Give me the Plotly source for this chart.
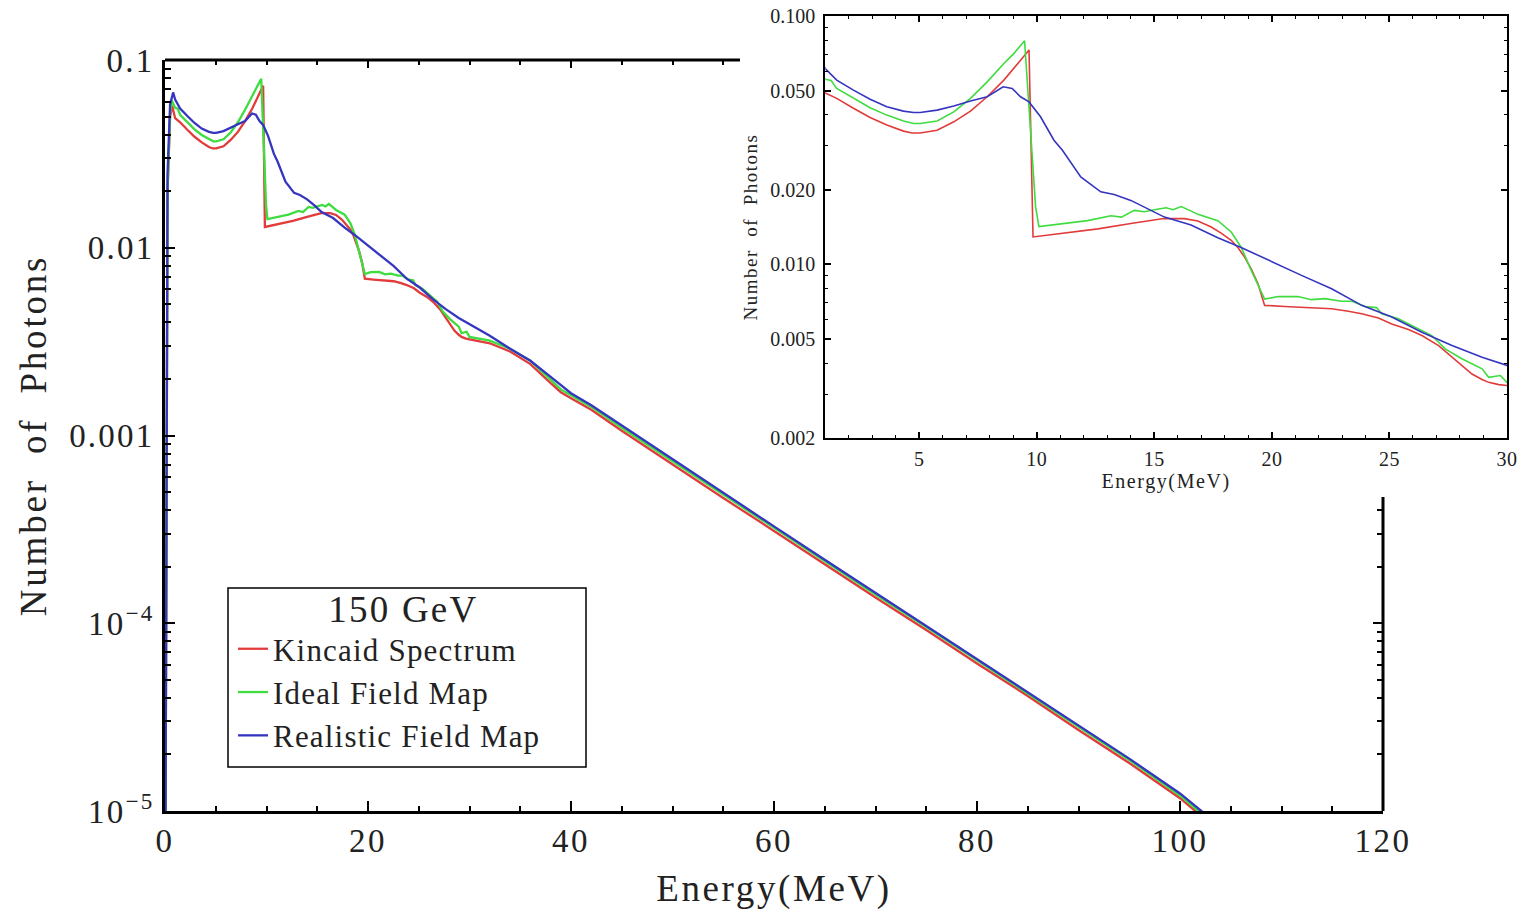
import plotly.graph_objects as go

# ---------------- data ----------------
kincaid_E = [0, 0.25, 0.5, 0.7, 1.0, 1.49, 2.2, 2.91, 3.62, 4.33, 4.7, 5.04, 5.76, 6.47, 7.18, 7.89, 8.6, 9.31, 9.67, 9.84,
             11.0, 12.6, 14.0, 15.4, 16.28, 16.85, 17.42, 17.84, 18.27, 18.56, 18.84, 19.12, 19.41, 19.69,
             20.54, 21.26, 21.97, 22.54, 23.25, 23.82, 24.53, 25.10, 25.81, 26.38, 27.09, 27.66, 28.08, 28.51,
             28.94, 29.22, 29.65, 30.0,
             32, 34, 36, 38, 39, 40, 42, 45, 50, 55, 60, 65, 70, 75, 80, 85, 90, 95, 100, 101.5, 102.5]
kincaid_N = [1e-6, 0.02, 0.05, 0.057, 0.049, 0.0466, 0.0425, 0.039, 0.0364, 0.0344, 0.0338, 0.0338, 0.0347, 0.0375, 0.0414, 0.0473, 0.0552, 0.0665, 0.0729, 0.0129,
             0.0133, 0.0139, 0.0146, 0.0153, 0.01528, 0.01495, 0.01414, 0.01337, 0.0125, 0.01167, 0.0107, 0.0096, 0.00836, 0.00684,
             0.00677, 0.00673, 0.00669, 0.00663, 0.00648, 0.00633, 0.00608, 0.00576, 0.00547, 0.00517, 0.00471, 0.00423, 0.00392, 0.00362,
             0.00344, 0.00335, 0.00328, 0.00325,
             0.0031, 0.0028, 0.0024, 0.0019, 0.0017, 0.00158, 0.00137, 0.00106, 7.0e-4, 4.65e-4, 3.1e-4, 2.06e-4,
             1.37e-4, 9.2e-5, 6.1e-5, 4.1e-5, 2.7e-5, 1.8e-5, 1.17e-5, 1.0e-5, 9.2e-6]

ideal_E = [0, 0.25, 0.5, 0.66, 1.0, 1.25, 1.49, 2.2, 2.91, 3.62, 4.33, 4.76, 5.04, 5.76, 6.47, 7.18, 7.89, 8.6, 9.03, 9.48,
           9.74, 9.95, 10.09, 11.16, 12.16, 13.15, 13.6, 14.14, 14.57, 15.0, 15.5, 15.8, 16.14, 16.5, 16.85,
           17.7, 18.27, 18.7, 19.12, 19.69, 20.26, 21.11, 21.68, 22.26, 22.96, 23.4, 23.96, 24.45, 24.67,
           25.38, 26.09, 26.8, 27.37, 28.08, 28.94, 29.22, 29.72, 30.0,
           32, 34, 36, 38, 39, 40, 42, 45, 50, 55, 60, 65, 70, 75, 80, 85, 90, 95, 100, 101.8, 102.8]
ideal_N = [1e-6, 0.02, 0.052, 0.061, 0.0556, 0.0550, 0.0511, 0.0466, 0.0427, 0.0399, 0.0378, 0.0369, 0.0369, 0.0378, 0.0411, 0.0466, 0.0543, 0.0644, 0.0707, 0.0795,
           0.0347, 0.017, 0.0142, 0.0146, 0.0150, 0.0157, 0.0155, 0.0165, 0.0163, 0.0166, 0.0169, 0.0166, 0.0171, 0.0165, 0.0159,
           0.0150, 0.0135, 0.0117, 0.00946, 0.00725, 0.00742, 0.00743, 0.00721, 0.00728, 0.00711, 0.00711, 0.00677, 0.0067, 0.00633,
           0.00604, 0.00558, 0.00517, 0.00457, 0.00417, 0.0038, 0.00351, 0.00357, 0.00335,
           0.0032, 0.0029, 0.0025, 0.00198, 0.00176, 0.00164, 0.00142, 0.0011, 7.3e-4, 4.85e-4, 3.22e-4, 2.14e-4,
           1.42e-4, 9.55e-5, 6.35e-5, 4.25e-5, 2.8e-5, 1.87e-5, 1.21e-5, 1.0e-5, 9.2e-6]

realistic_E = [0, 0.25, 0.5, 0.8, 1.0, 1.49, 2.2, 2.91, 3.62, 4.33, 4.76, 5.04, 5.76, 6.47, 7.18, 7.89, 8.57, 8.95, 9.31, 9.67, 10.16, 10.73,
               11.09, 11.87, 12.72, 13.29, 14.0, 14.72, 15.43, 16.56, 17.7, 18.69, 19.12, 19.98, 21.26, 22.54,
               23.82, 25.1, 26.38, 27.66, 28.94, 30.0,
               32, 34, 36, 38, 40, 42, 45, 50, 55, 60, 65, 70, 75, 80, 85, 90, 95, 100, 102.1, 103]
realistic_N = [1e-6, 0.025, 0.058, 0.0672, 0.0615, 0.0552, 0.0503, 0.0462, 0.0431, 0.0414, 0.0409, 0.0409, 0.0418, 0.0434, 0.0455, 0.0473, 0.0519, 0.0511, 0.0473, 0.0451, 0.0393, 0.0316,
               0.0288, 0.0225, 0.0196, 0.0191, 0.0181, 0.0168, 0.0155, 0.0144, 0.0128, 0.0117, 0.0112, 0.0103, 0.00903, 0.00798,
               0.00684, 0.00614, 0.00533, 0.00471, 0.00423, 0.00392,
               0.0034, 0.0029, 0.0025, 0.00205, 0.00168, 0.00145, 0.00113, 7.45e-4, 4.95e-4, 3.28e-4, 2.18e-4,
               1.45e-4, 9.7e-5, 6.45e-5, 4.3e-5, 2.86e-5, 1.9e-5, 1.24e-5, 1.0e-5, 9.3e-6]

series_names = ["Kincaid Spectrum", "Ideal Field Map", "Realistic Field Map"]
series_colors = ["#e23b3b", "#3fdc3f", "#3535c0"]
legend_title = "150 GeV"

main_x_ticks = [0, 20, 40, 60, 80, 100, 120]
main_x_labels = ["0", "20", "40", "60", "80", "100", "120"]
main_y_ticks = [1e-5, 1e-4, 1e-3, 1e-2, 1e-1]
main_y_labels = ["10<sup>\u22125</sup>", "10<sup>\u22124</sup>", "0.001", "0.01", "0.1"]
inset_x_ticks = [5, 10, 15, 20, 25, 30]
inset_x_labels = ["5", "10", "15", "20", "25", "30"]
inset_y_ticks = [0.002, 0.005, 0.01, 0.02, 0.05, 0.1]
inset_y_labels = ["0.002", "0.005", "0.010", "0.020", "0.050", "0.100"]
x_title = "Energy(MeV)"
y_title = "Number\u00a0 of\u00a0 Photons"


def spaced(text, px):
    return '<span style="letter-spacing:%spx">%s</span>' % (px, text)


# ---------------- figure ----------------
FONT = "Liberation Serif, Times New Roman, serif"
W, H = 1527, 915
L, R, T, B = 165, 20, 16, 104
PW, PH = W - L - R, H - T - B


def px_x(p):
    return (p - L) / PW


def px_y(p):
    return (H - B - p) / PH


main_xdom = [0, px_x(1383)]
main_ydom = [0, px_y(60)]
ins_xdom = [px_x(825.2), 1.0]
ins_ydom = [px_y(438), 1.0]

fig = go.Figure()
data = [(kincaid_E, kincaid_N), (ideal_E, ideal_N), (realistic_E, realistic_N)]
for (ex, ny), name, col in zip(data, series_names, series_colors):
    fig.add_trace(go.Scatter(x=ex, y=ny, mode="lines", name=spaced(name, 1.2),
                             line=dict(color=col, width=2.3), xaxis="x", yaxis="y"))
for (ex, ny), name, col in zip(data, series_names, series_colors):
    fig.add_trace(go.Scatter(x=ex, y=ny, mode="lines", name=name, showlegend=False,
                             line=dict(color=col, width=1.6), xaxis="x2", yaxis="y2"))
# helper traces so the partial top / right tick axes are drawn
fig.add_trace(go.Scatter(x=[None], y=[None], xaxis="x3", yaxis="y", showlegend=False, hoverinfo="skip"))
fig.add_trace(go.Scatter(x=[None], y=[None], xaxis="x", yaxis="y3", showlegend=False, hoverinfo="skip"))

minor_log = []
for d in range(-5, -1):
    for k in range(2, 10):
        minor_log.append(k * 10.0 ** d)
ins_minor = [v for v in minor_log if 0.002 <= v <= 0.1 and all(abs(v - t) > 1e-12 for t in inset_y_ticks)]

tickfont_main = dict(family=FONT, size=33, color="#222")
tickfont_ins = dict(family=FONT, size=20, color="#222")
fig.update_layout(
    width=W, height=H,
    margin=dict(l=L, r=R, t=T, b=B, autoexpand=False),
    paper_bgcolor="white", plot_bgcolor="white",
    font=dict(family=FONT, color="#222"),
    xaxis=dict(domain=main_xdom, anchor="y", range=[0, 120], tickmode="array", tickvals=main_x_ticks,
               ticktext=[spaced(t, 2.5) for t in main_x_labels],
               ticks="inside", ticklen=10, tickwidth=2, tickcolor="black",
               showline=True, linewidth=3, linecolor="black", showgrid=False, zeroline=False,
               tickfont=tickfont_main, ticklabelstandoff=-2,
               minor=dict(dtick=5, ticks="inside", ticklen=5, tickwidth=2, tickcolor="black", showgrid=False),
               title=dict(text=spaced(x_title, 2.6), font=dict(family=FONT, size=37, color="#222"), standoff=18)),
    yaxis=dict(domain=main_ydom, anchor="x", type="log", range=[-5, -1], tickmode="array",
               tickvals=main_y_ticks, ticktext=[spaced(t, 2.2) for t in main_y_labels],
               ticks="inside", ticklen=10, tickwidth=2, tickcolor="black",
               showline=True, linewidth=3, linecolor="black", showgrid=False, zeroline=False,
               tickfont=tickfont_main, ticklabelstandoff=1,
               minor=dict(tickmode="array", tickvals=minor_log, ticks="inside", ticklen=6, tickwidth=2,
                          tickcolor="black", showgrid=False),
               title=dict(text=spaced(y_title, 2.8), font=dict(family=FONT, size=37, color="#222"), standoff=12)),
    xaxis3=dict(overlaying="x", side="top", anchor="y", range=[0, 120], tickmode="array", tickvals=[0, 20, 40],
                ticks="inside", ticklen=8, tickwidth=2, tickcolor="black", showticklabels=False,
                showline=False, showgrid=False, zeroline=False,
                minor=dict(tickmode="array", tickvals=[5, 10, 15, 25, 30, 35, 45, 50, 55], ticks="inside",
                           ticklen=5, tickwidth=2, tickcolor="black", showgrid=False)),
    yaxis3=dict(overlaying="y", side="right", anchor="x", type="log", range=[-5, -1], tickmode="array",
                tickvals=[1e-4], ticks="inside", ticklen=10, tickwidth=2, tickcolor="black",
                showticklabels=False, showline=False, showgrid=False, zeroline=False,
                minor=dict(tickmode="array", tickvals=[v for v in minor_log if v < 4.5e-4], ticks="inside",
                           ticklen=6, tickwidth=2, tickcolor="black", showgrid=False)),
    xaxis2=dict(domain=ins_xdom, anchor="y2", range=[1, 30], tickmode="array", tickvals=inset_x_ticks,
                ticktext=[spaced(t, 0.5) for t in inset_x_labels],
                ticks="inside", ticklen=6, tickwidth=1.5, tickcolor="black", mirror="ticks",
                showline=True, linewidth=2, linecolor="black", showgrid=False, zeroline=False,
                tickfont=tickfont_ins, ticklabelstandoff=2,
                minor=dict(dtick=1, ticks="inside", ticklen=3, tickwidth=1.2, tickcolor="black", showgrid=False),
                title=dict(text=spaced(x_title, 1.6), font=dict(family=FONT, size=20, color="#222"), standoff=5)),
    yaxis2=dict(domain=ins_ydom, anchor="x2", type="log", range=[-2.69897, -1], tickmode="array",
                tickvals=inset_y_ticks, ticktext=inset_y_labels,
                ticks="inside", ticklen=6, tickwidth=1.5, tickcolor="black", mirror="ticks",
                showline=True, linewidth=2, linecolor="black", showgrid=False, zeroline=False,
                tickfont=tickfont_ins, ticklabelstandoff=4,
                minor=dict(tickmode="array", tickvals=ins_minor, ticks="inside", ticklen=3, tickwidth=1.2,
                           tickcolor="black", showgrid=False),
                title=dict(text=spaced(y_title, 1.5), font=dict(family=FONT, size=19, color="#222"), standoff=8)),
    showlegend=True,
    legend=dict(x=px_x(233), y=px_y(574), xanchor="left", yanchor="top",
                bgcolor="rgba(0,0,0,0)", borderwidth=0,
                font=dict(family=FONT, size=31, color="#222"),
                title=dict(text="\u00a0\u00a0\u00a0" + spaced(legend_title, 2.2), side="top center",
                           font=dict(family=FONT, size=37, color="#222")),
                tracegroupgap=0),
    shapes=[
        dict(type="line", xref="paper", yref="paper", x0=0, x1=px_x(740), y0=px_y(60), y1=px_y(60),
             line=dict(color="black", width=3)),
        dict(type="line", xref="paper", yref="paper", x0=px_x(1383), x1=px_x(1383), y0=0, y1=px_y(497),
             line=dict(color="black", width=3)),
        # legend frame
        dict(type="rect", xref="paper", yref="paper", x0=px_x(228), x1=px_x(586), y0=px_y(767), y1=px_y(588),
             line=dict(color="black", width=1.5), fillcolor="white", layer="below"),
    ],
)

fig.write_html("out.html")
